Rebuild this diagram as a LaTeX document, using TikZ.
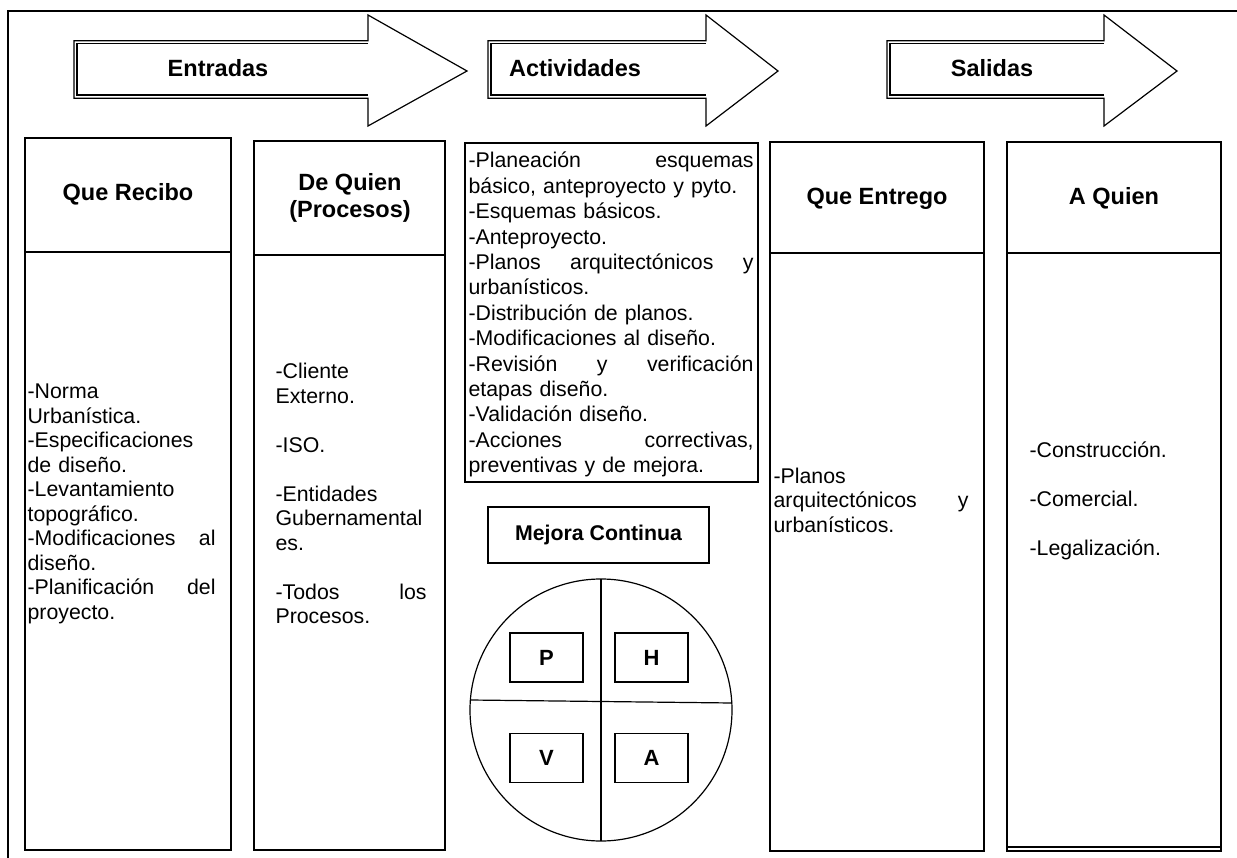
\documentclass[tikz,border=0pt]{standalone}
\usepackage{fontspec}
\setmainfont{Liberation Sans}

% block arrow with a doubled shaft outline: left end, head base, tip
\newcommand\flowarrow[3]{%
  \draw (#1,40.7) -- (#2,40.7) -- (#2,15) -- (#3,71) -- (#2,126)
        -- (#2,98.3) -- (#1,98.3) -- cycle;
  \draw (#2,43.3) -- (#1+3,43.3) -- (#1+3,95) -- (#2,95);
}

\begin{document}
\begin{tikzpicture}[x=1pt,y=-1pt,line width=1.2pt,
  body/.style={anchor=base west,inner sep=0pt,text width=#1,align=left,
    font=\fontsize{21.3}{24.5}\selectfont},
  head/.style={inner sep=0pt,align=center,
    font=\fontsize{23.5}{27}\selectfont\bfseries},
  small head/.style={inner sep=0pt,align=center,
    font=\fontsize{21.3}{25}\selectfont\bfseries},
  pdca/.style={draw,minimum width=73pt,minimum height=49pt,inner sep=0pt,
    font=\fontsize{22}{26}\selectfont\bfseries}]
\useasboundingbox (0,0) rectangle (1237,858);

% outer frame
\draw (1237,11) -- (8,11) -- (8,858);

% top arrows
\flowarrow{74}{368}{467}
\flowarrow{488}{706}{778}
\flowarrow{887}{1104}{1177}
\node[head] (tEnt) at (218,68) {Entradas};
\node[head] (tAct) at (575,68) {Actividades};
\node[head] (tSal) at (992,68) {Salidas};

% column: Que Recibo
\draw (25,138) rectangle (231,850);
\draw (25,252) -- (231,252);
\node[head,anchor=base] (hRec) at (128,201) {Que Recibo};
\node[body=188pt] (bRec) at (27,399) {-Norma\\
Urbanística.\\
-Especificaciones\\
de diseño.\\
-Levantamiento\\
topográfico.\\
-Modificaciones\hfill al\\
diseño.\\
-Planificación\hfill del\\
proyecto.};

% column: De Quien
\draw (254,141) rectangle (445,850);
\draw (254,255) -- (445,255);
\node[head,anchor=base] (hDe) at (350,218) {De Quien\\(Procesos)};
\node[body=151pt] (bDe) at (275,379) {-Cliente\\
Externo.\\[24.5pt]
-ISO.\\[24.5pt]
-Entidades\\
Gubernamental\\
es.\\[24.5pt]
-Todos\hfill los\\
Procesos.};

% activities
\draw (465,143) rectangle (758,482);
\node[body=285pt,font=\fontsize{21.3}{25.4}\selectfont] (bAct) at (468,168) {-Planeación\hfill esquemas\\
básico, anteproyecto y pyto.\\
-Esquemas básicos.\\
-Anteproyecto.\\
-Planos\hfill arquitectónicos\hfill y\\
urbanísticos.\\
-Distribución de planos.\\
-Modificaciones al diseño.\\
-Revisión\hfill y\hfill verificación\\
etapas diseño.\\
-Validación diseño.\\
-Acciones\hfill correctivas,\\
preventivas y de mejora.};

% continuous improvement
\node[small head,draw,minimum width=221pt,minimum height=56pt] (mejora) at (598.5,535) {Mejora Continua};
\draw (601,710) circle[radius=131];
\draw (601,579) -- (601,841);
\draw (470,700) -- (732,703);
\node[pdca] (P) at (546.5,657.5) {P};
\node[pdca] (H) at (651.5,657.5) {H};
\node[pdca] (V) at (546.5,758) {V};
\node[pdca] (A) at (651.5,758) {A};

% column: Que Entrego
\draw (770,142) rectangle (984,851);
\draw[line width=2.5pt] (770,253) -- (984,253);
\draw[line width=2.5pt] (984,142) -- (984,851) -- (770,851);
\node[head,anchor=base] (hEnt) at (877,205) {Que Entrego};
\node[body=195pt] (bEnt) at (773,483) {-Planos\\
arquitectónicos\hfill y\\
urbanísticos.};

% column: A Quien
\draw (1007,142) rectangle (1221,851);
\draw[line width=2.2pt] (1007,253) -- (1221,253);
\draw (1007,847) -- (1221,847);
\node[head,anchor=base] (hAq) at (1114,205) {A Quien};
\node[body=180pt] (bAq) at (1029,457) {-Construcción.\\[24.5pt]
-Comercial.\\[24.5pt]
-Legalización.};
\end{tikzpicture}
\end{document}
